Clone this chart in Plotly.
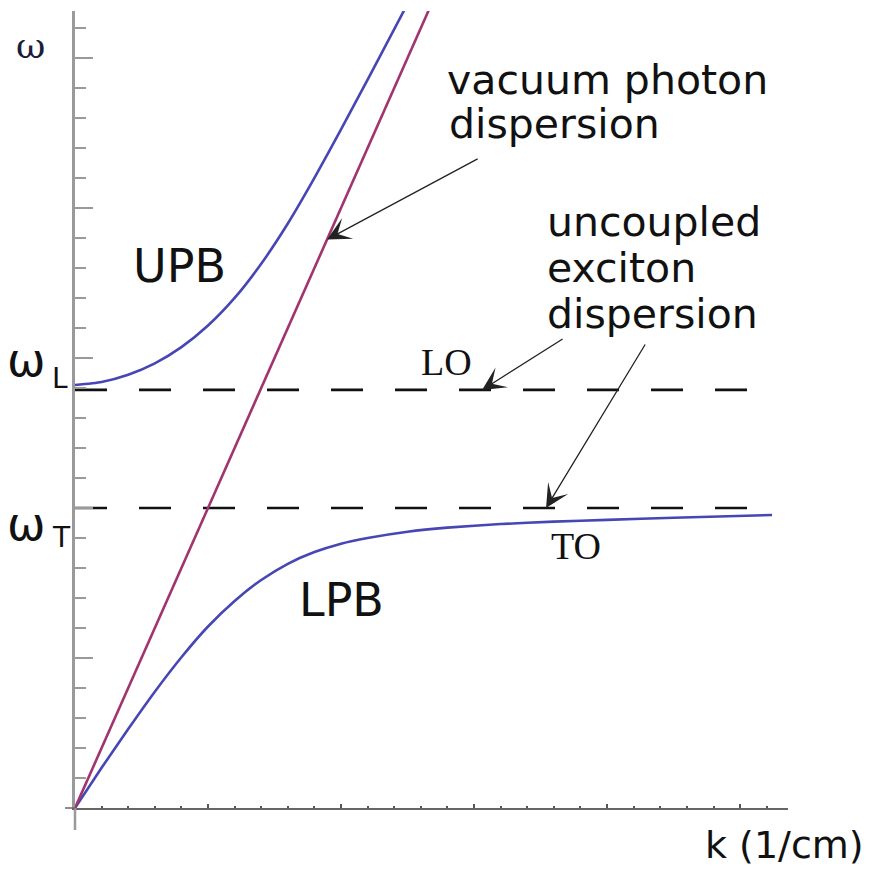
import plotly.graph_objects as go

# ---- data ----
photon_k = [0.0, 2.72]
photon_w = [0.0, 5.44]

upb_k = [0.0, 0.2, 0.4, 0.6, 0.8, 1.0, 1.2, 1.4, 1.6, 1.8, 2.0, 2.2, 2.4, 2.6]
upb_w = [2.82, 2.84, 2.888, 2.964, 3.072, 3.216, 3.40, 3.628, 3.896, 4.20, 4.524, 4.856, 5.192, 5.53]

lpb_k = [0.0, 0.2, 0.4, 0.6, 0.8, 1.0, 1.2, 1.4, 1.6, 1.8, 2.0, 2.2, 2.5, 2.8, 3.2, 3.6, 4.0, 4.5, 5.24]
lpb_w = [0.0, 0.268, 0.526, 0.775, 1.005, 1.21, 1.38, 1.52, 1.628, 1.706, 1.762, 1.80,
         1.842, 1.869, 1.893, 1.909, 1.921, 1.935, 1.953]

omega_L = 2.787
omega_T = 2.0
dash_k = [0.0, 5.08]

x_range = [0.0, 5.36]
y_range = [0.0, 5.313]

BLUE = "#4646b4"
MAGENTA = "#a0346e"

fig = go.Figure()

# dashed uncoupled exciton lines
for w in (omega_L, omega_T):
    fig.add_trace(go.Scatter(x=dash_k, y=[w, w], mode="lines",
                             line=dict(color="#111111", width=2.6, dash="32px,32px"),
                             hoverinfo="skip", showlegend=False))

fig.add_trace(go.Scatter(x=upb_k, y=upb_w, mode="lines",
                         line=dict(color=BLUE, width=2.6, shape="spline", smoothing=0.6),
                         showlegend=False))
fig.add_trace(go.Scatter(x=lpb_k, y=lpb_w, mode="lines",
                         line=dict(color=BLUE, width=2.6, shape="spline", smoothing=0.6),
                         showlegend=False))
fig.add_trace(go.Scatter(x=photon_k, y=photon_w, mode="lines",
                         line=dict(color=MAGENTA, width=2.6),
                         showlegend=False))

sans = "DejaVu Sans"
serif = "Liberation Serif"

def label(text, x, y, size, family=sans, xanchor="center", color="#111111", ref="x"):
    fig.add_annotation(text=text, x=x, y=y, xref=ref, yref=("y" if ref == "x" else "paper"),
                       showarrow=False, xanchor=xanchor, yanchor="middle",
                       font=dict(family=family, size=size, color=color))

label("vacuum photon", 2.782, 4.853, 41, xanchor="left")
label("dispersion", 2.80, 4.56, 41, xanchor="left")
label("uncoupled", 3.534, 3.907, 41, xanchor="left")
label("exciton", 3.534, 3.60, 41, xanchor="left")
label("dispersion", 3.534, 3.293, 41, xanchor="left")
label("UPB", 0.782, 3.613, 46)
label("LPB", 2.0, 1.387, 46)
label("LO", 2.79, 2.973, 38, family=serif)
label("TO", 3.77, 1.747, 38, family=serif)

# labels outside the plotting area (paper coordinates)
label("ω", -0.0631, 0.957, 36, family="DejaVu Serif", color="#1c1c3c", ref="paper")
label("ω", -0.068, 0.5621, 46, ref="paper")
label("L", -0.0351, 0.5395, 28, xanchor="left", ref="paper")
label("ω", -0.068, 0.3563, 46, ref="paper")
label("T", -0.0351, 0.3388, 28, xanchor="left", ref="paper")
label("k (1/cm)", 1.11, -0.0464, 38, xanchor="right", ref="paper")

# arrows: (head k, head w, tail k, tail w)
arrows = [
    (1.895, 3.79, 3.038, 4.333),
    (3.06, omega_L, 3.677, 3.133),
    (3.541, omega_T, 4.293, 3.10),
]
for hx, hy, tx, ty in arrows:
    fig.add_annotation(text="", x=hx, y=hy, ax=tx, ay=ty, xref="x", yref="y",
                       axref="x", ayref="y", showarrow=True, arrowhead=3,
                       arrowsize=3, arrowwidth=1.3, arrowcolor="#222222", standoff=0)

# small axis extensions past the origin (Mathematica-style crossing axes)
fig.add_shape(type="line", xref="paper", yref="paper", x0=0, x1=0, y0=0, y1=-0.0276,
              line=dict(color="#999999", width=2.5))
fig.add_shape(type="line", xref="paper", yref="paper", x0=-0.014, x1=0, y0=0, y1=0,
              line=dict(color="#666666", width=1.5))

fig.update_xaxes(range=x_range, showgrid=False, zeroline=False, showline=True,
                 linecolor="#666666", linewidth=1.5, ticks="inside", tickmode="linear",
                 tick0=0, dtick=1, ticklen=4, tickwidth=1.5, tickcolor="#555555",
                 showticklabels=False,
                 minor=dict(ticks="inside", dtick=0.2, ticklen=2, tickwidth=1.5,
                            tickcolor="#555555", showgrid=False))
fig.update_yaxes(range=y_range, showgrid=False, zeroline=False, showline=True,
                 linecolor="#9a9a9a", linewidth=2.5, ticks="inside", tickmode="linear",
                 tick0=0, dtick=1, ticklen=18, tickwidth=2, tickcolor="#9a9a9a",
                 showticklabels=False,
                 minor=dict(ticks="inside", dtick=0.2, ticklen=11, tickwidth=2,
                            tickcolor="#9a9a9a", showgrid=False))

# page body has an 8px default margin, so shift the plot area up/left by 8px
fig.update_layout(width=873, height=871, plot_bgcolor="white", paper_bgcolor="white",
                  margin=dict(l=67, r=93, t=3, b=71), showlegend=False)

fig.write_html("out.html")
